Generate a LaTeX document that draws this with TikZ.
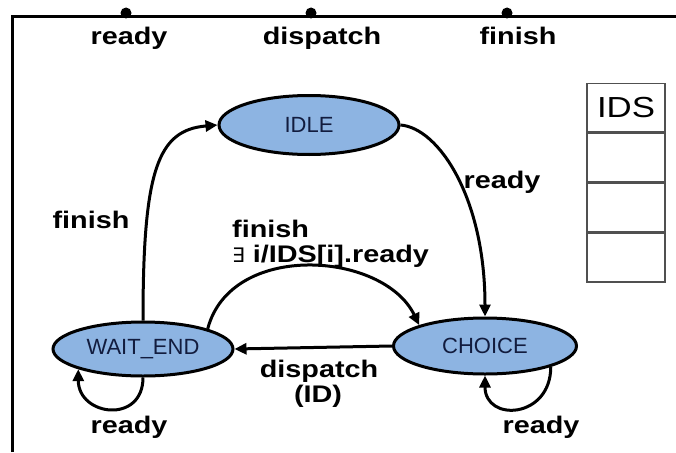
\documentclass[tikz,border=0pt]{standalone}
\usepackage{fontspec}
\setmainfont{Liberation Sans}
\newfontfamily\lblfont{Liberation Sans}[FakeStretch=1.2]
\newfontfamily\symfont{DejaVu Sans}
\usetikzlibrary{shapes.geometric,arrows.meta,positioning}
\definecolor{statefill}{RGB}{141,180,226}
\definecolor{statetext}{RGB}{18,28,62}
\definecolor{tablegray}{RGB}{80,80,80}
\tikzset{
  state/.style={ellipse,draw=black,line width=3pt,fill=statefill,text=statetext,
    font=\fontsize{22}{24}\selectfont,inner sep=0pt,minimum width=180pt,minimum height=54pt},
  lbl/.style={font=\lblfont\bfseries\fontsize{24}{26}\selectfont,inner sep=0pt},
  port/.style={circle,fill=black,inner sep=0pt,minimum size=11pt},
  trans/.style={line width=3pt,-{Triangle[length=12pt,width=11pt]}},
  idscell/.style={draw=tablegray,line width=1.5pt,minimum width=78pt,minimum height=48.5pt,inner sep=0pt}
}
\begin{document}
\begin{tikzpicture}[x=1pt,y=-1pt]
   \useasboundingbox (0,0) rectangle (676,452);
   \draw[line width=3pt] (12,452) -- (12,17) -- (676,17);

   \node[port] (pready) at (126,13) {};
   \node[port] (pdispatch) at (311,13) {};
   \node[port] (pfinish) at (507,13) {};
   \node[lbl,anchor=base] (tready) at (129,45) {ready};
   \node[lbl,anchor=base] (tdispatch) at (322,45) {dispatch};
   \node[lbl,anchor=base] (tfinish) at (518,45) {finish};

   \node[state,minimum height=59pt] (idle) at (309,125) {IDLE};
   \node[state] (waitend) at (143,349) {WAIT\_END};
   \node[state,minimum width=183pt,minimum height=56pt] (choice) at (485,346) {CHOICE};

   \node[idscell,font=\lblfont\fontsize{29}{30}\selectfont] (ids) at (626,107.5) {IDS};
   \foreach \i/\j in {1/ids,2/ids1,3/ids2}
     \node[idscell,below=0pt of \j] (ids\i) {};

   \draw[trans] (waitend.north) .. controls +(0,-150) and +(-60,5) .. (idle.west);
   \draw[trans] (idle.east) .. controls +(38,3) and +(0,-119) .. (choice.north);
   \draw[trans] (waitend.north east) .. controls +(23,-88) and +(-36,-74) .. (choice.north west);
   \draw[trans] (choice.west) -- (waitend.east);
   \draw[trans] (waitend.south) .. controls +(0,47) and +(0,47) .. (waitend.south west);
   \draw[trans] (choice.south east) .. controls +(0,52) and +(0,47) .. (choice.south);

   \node[lbl,anchor=base] (lfinish) at (91,228) {finish};
   \node[lbl,anchor=base west] (mfinish) at (232,237) {finish};
   \node[lbl,anchor=base west] (mcond) at (232,262)
     {{\symfont\mdseries\fontsize{20}{24}\selectfont ∃} i/IDS[i].ready};
   \node[lbl,anchor=base] (rready) at (502,188) {ready};
   \node[lbl,anchor=base] (ldispatch) at (319,377) {dispatch};
   \node[lbl,anchor=base] (lid) at (318,402) {(ID)};
   \node[lbl,anchor=base] (wready) at (129,433) {ready};
   \node[lbl,anchor=base] (cready) at (541,433) {ready};
  \end{tikzpicture}
\end{document}
